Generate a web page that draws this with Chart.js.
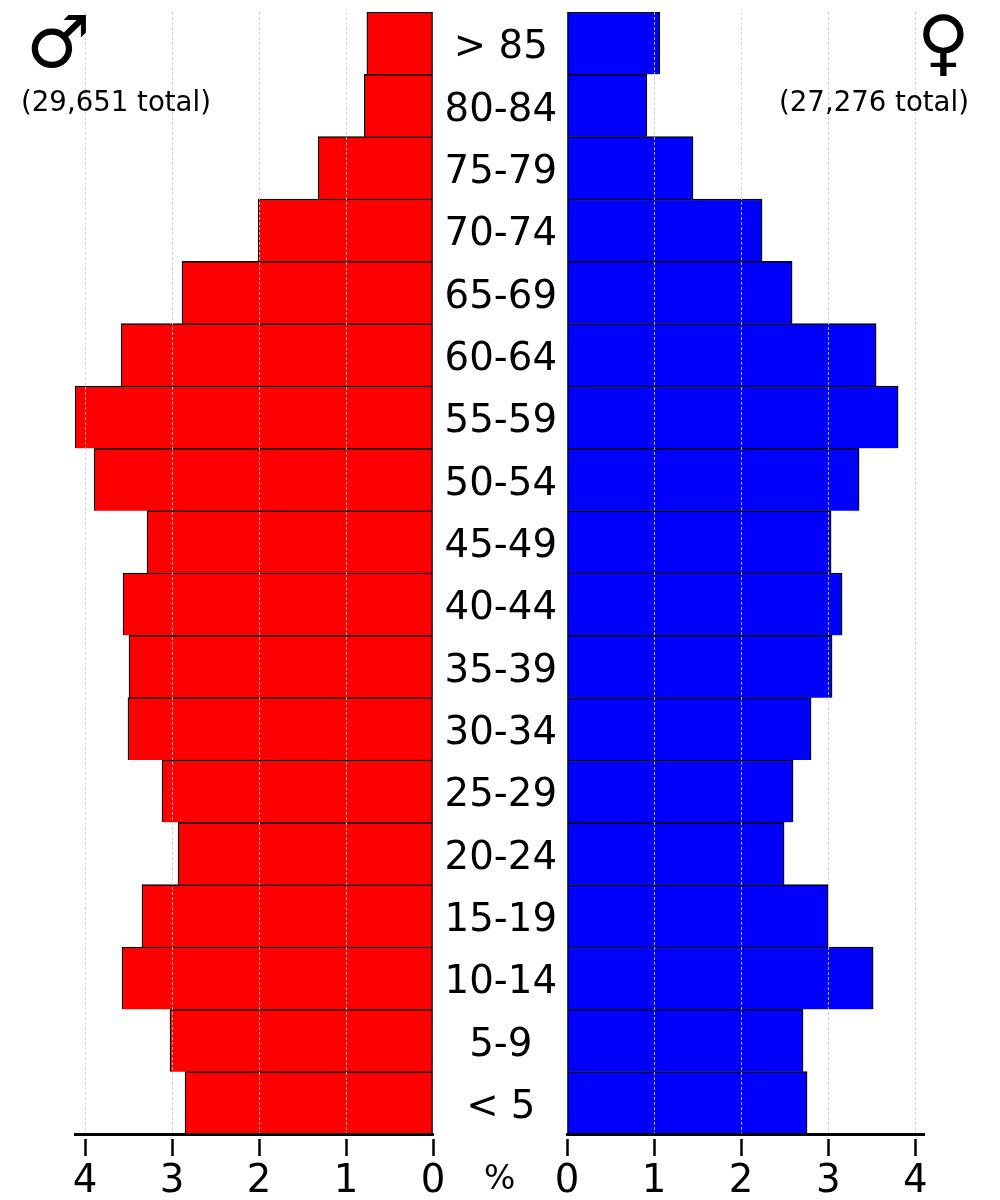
<!DOCTYPE html>
<html>
<head>
<meta charset="utf-8">
<script src="https://cdn.jsdelivr.net/npm/chart.js@4"></script>
<style>
html,body{margin:0;padding:0;background:#fff;width:1000px;height:1200px;overflow:hidden}
canvas{position:absolute;top:0}
.t{position:absolute;font-family:"DejaVu Sans";color:#000;white-space:pre;line-height:1;z-index:5}
</style>
</head>
<body>
<canvas id="male" width="500" height="1200" style="left:0"></canvas>
<canvas id="female" width="567" height="1200" style="left:433px"></canvas>
<div class="t" style="left:21px;top:88px;font-size:27.6px">(29,651 total)</div>
<div class="t" style="left:779px;top:88px;font-size:27.6px">(27,276 total)</div>
<div class="t" style="left:26px;top:6px;font-size:72px">♂</div>
<div class="t" style="left:917px;top:6px;font-size:72px">♀</div>
<div class="t" style="left:484px;top:1161px;font-size:33px">%</div>
<script>
const ageGroups = ["> 85","80-84","75-79","70-74","65-69","60-64","55-59","50-54","45-49","40-44","35-39","30-34","25-29","20-24","15-19","10-14","5-9","< 5"];
const maleValues = [0.76,0.79,1.32,2.01,2.885,3.585,4.115,3.895,3.287,3.563,3.494,3.506,3.115,2.931,3.345,3.575,3.023,2.85];
const femaleValues = [1.065,0.917,1.447,2.24,2.585,3.55,3.803,3.355,3.033,3.159,3.044,2.803,2.596,2.493,2.999,3.516,2.711,2.757];
const tickFont = {family:"DejaVu Sans", size:38.7};
const labelFont = {family:"DejaVu Sans", size:38.7, lineHeight:0.258};
const tickGap = {id:'tickGap', afterDraw(c){
  const a=c.chartArea, x=c.ctx; x.save(); x.fillStyle='#fff';
  x.fillRect(0,a.bottom+2,c.width,3); x.restore();
}};
function xAxis(reverse,max){
  return {type:'linear',min:0,max,reverse,position:'bottom',
    afterBuildTicks(s){s.ticks=[0,1,2,3,4].map(v=>({value:v}));},
    afterFit(s){s.height=66;s.paddingLeft=0;s.paddingRight=0;},
    grid:{display:true,z:1,color:c=>c.tick&&c.tick.value===0?'rgba(0,0,0,0)':'rgba(205,205,205,0.95)',lineWidth:0.9,
      drawTicks:true,tickLength:22,tickColor:'#000',tickWidth:2.5,tickBorderDash:[]},
    border:{display:true,color:'#000',width:3,dash:[3,2],z:2},
    ticks:{color:'#000',font:tickFont,padding:3,maxRotation:0,autoSkip:false}};
}
function make(id,values,color,reverse,max,yOpts,padding){
  return new Chart(document.getElementById(id),{
    type:'bar',
    data:{labels:ageGroups,datasets:[{data:values,backgroundColor:color,borderColor:'#000',
      borderWidth:{top:1.5,bottom:0,left:1.3,right:1.3},borderSkipped:false,barPercentage:1,categoryPercentage:1}]},
    options:{indexAxis:'y',responsive:false,animation:false,devicePixelRatio:1,
      layout:{padding},
      plugins:{legend:{display:false},tooltip:{enabled:false},title:{display:false}},
      scales:{x:xAxis(reverse,max),y:yOpts}},
    plugins:[tickGap]
  });
}
make('male',maleValues,'#ff0000',true,4.115,
  {type:'category',display:false,offset:true,grid:{display:false}},
  {left:75,right:67,top:12,bottom:0});
make('female',femaleValues,'#0000ff',false,4.1,
  {type:'category',position:'left',offset:true,
   afterFit(s){s.width=134;s.paddingTop=0;s.paddingBottom=0;},
   grid:{display:false,drawTicks:false},border:{display:false},
   ticks:{color:'#000',font:labelFont,crossAlign:'center',padding:10,autoSkip:false,
     callback:(v,i)=>["",ageGroups[i]]}},
  {left:0,right:76,top:12,bottom:0});
</script>
</body>
</html>
